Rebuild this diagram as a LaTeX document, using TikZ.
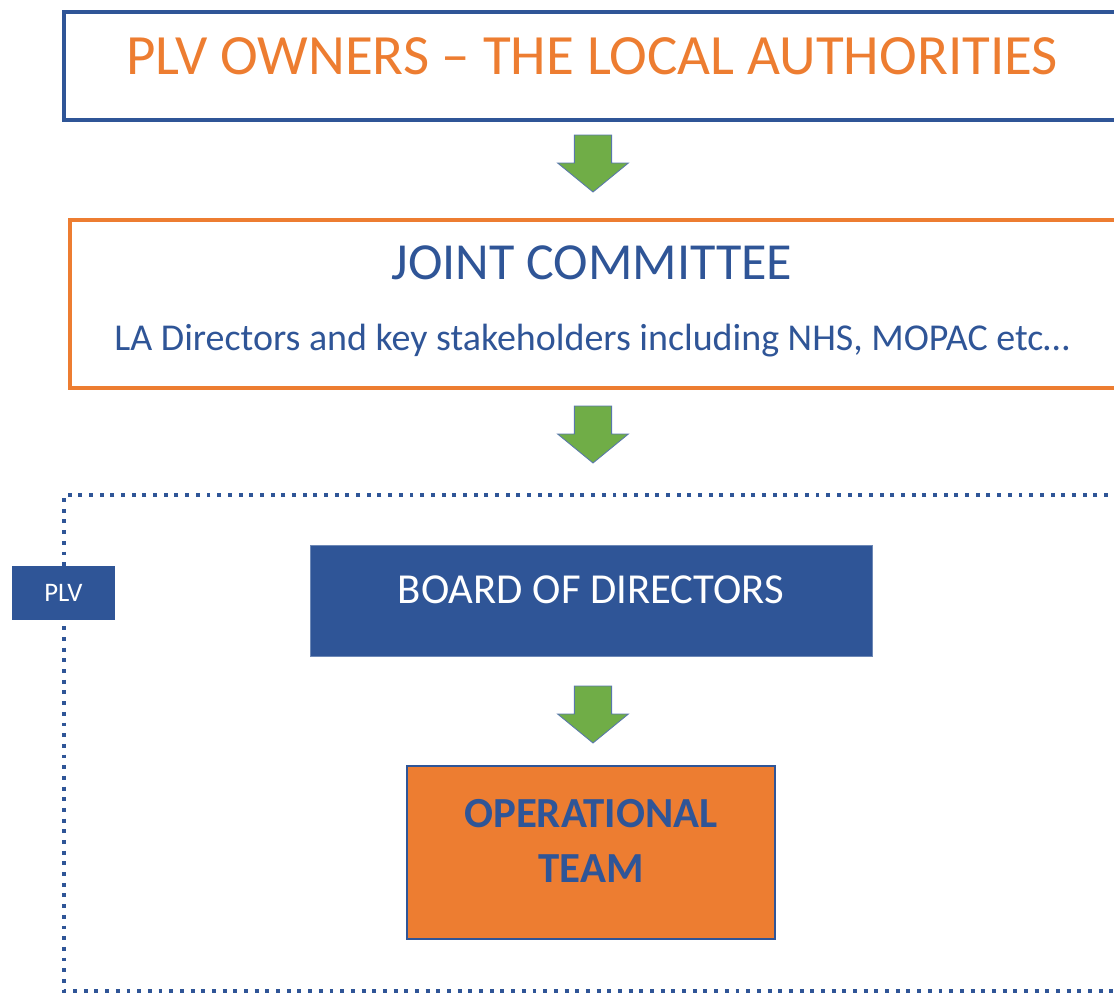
\documentclass[tikz,border=0pt]{standalone}
\usepackage{fontspec}
\setmainfont{Carlito}
\definecolor{plvblue}{HTML}{2F5597}
\definecolor{plvorange}{HTML}{ED7D31}
\definecolor{plvgreen}{HTML}{70AD47}
\tikzset{
  greenarrow/.style={fill=plvgreen, draw=plvblue!80, line width=0.6pt, line join=miter},
  titletext/.style={anchor=base, font=\fontsize{40.5}{44}\selectfont},
}
\begin{document}
\begin{tikzpicture}
            \useasboundingbox (0,0) rectangle (27.85,-24.85);
            \clip (0,0) rectangle (27.85,-24.85);

            \draw[plvblue, line width=2.2pt] (1.6,-0.3) rectangle (28.5,-3.0);
            \node[titletext, text=plvorange] (owners) at (14.8,-1.85) {PLV OWNERS – THE LOCAL AUTHORITIES};

            \draw[plvorange, line width=2.2pt] (1.75,-5.5) rectangle (28.5,-9.7);
            \node[titletext, text=plvblue, font=\fontsize{37}{42}\selectfont] (joint) at (14.8,-6.975) {JOINT COMMITTEE};
            \node[anchor=base, text=plvblue, font=\fontsize{27}{32}\selectfont] (members) at (14.8,-8.75) {LA Directors and key stakeholders including NHS, MOPAC etc…};

            % green arrows between the levels
            \foreach \t in {3.375, 10.15, 17.15}
                \draw[greenarrow] (14.36,-\t) -- (15.29,-\t) -- (15.29,{-(\t+0.7)}) -- (15.71,{-(\t+0.7)})
                    -- (14.825,{-(\t+1.425)}) -- (13.94,{-(\t+0.7)}) -- (14.36,{-(\t+0.7)}) -- cycle;

            \draw[plvblue, line width=2.8pt, dash pattern=on 2.8pt off 4.8pt] (28.5,-12.375) -- (1.6,-12.375) -- (1.6,-24.78) -- (28.5,-24.78);
            \node[fill=plvblue, text=white, minimum width=2.575cm, minimum height=1.35cm, font=\fontsize{19}{22}\selectfont] (plv) at (1.5875,-14.825) {PLV};

            \node[fill=plvblue, draw=plvblue!70, minimum width=14.05cm, minimum height=2.775cm] (board) at (14.775,-15.0125) {};
            \node[anchor=base, text=white, font=\fontsize{30.4}{34}\selectfont] (boardtext) at (14.775,-15.075) {BOARD OF DIRECTORS};

            \node[fill=plvorange, draw=plvblue, line width=1pt, minimum width=9.2cm, minimum height=4.325cm] (opteam) at (14.775,-21.3125) {};
            \node[anchor=base, text=plvblue, font=\fontsize{30.5}{34}\selectfont\bfseries] (opline1) at (14.775,-20.675) {OPERATIONAL};
            \node[anchor=base, text=plvblue, font=\fontsize{30.5}{34}\selectfont\bfseries] (opline2) at (14.775,-22.05) {TEAM};

        \end{tikzpicture}
\end{document}
